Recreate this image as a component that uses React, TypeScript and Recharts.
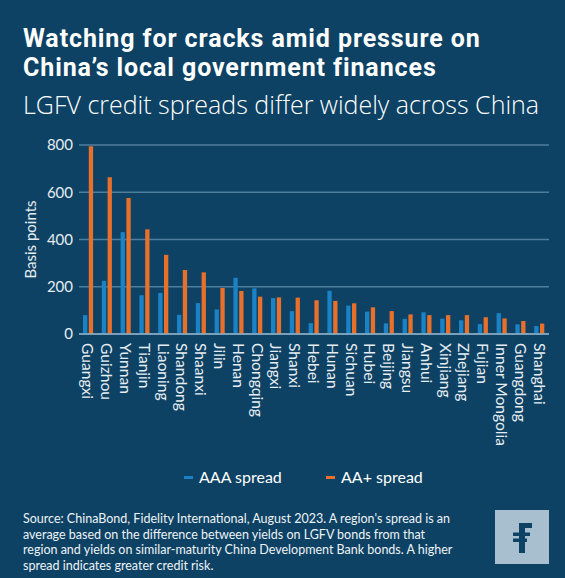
import React from 'react';
import { BarChart, Bar, XAxis, YAxis, CartesianGrid } from 'recharts';

const regions = [
  'Guangxi', 'Guizhou', 'Yunnan', 'Tianjin', 'Liaoning', 'Shandong', 'Shaanxi', 'Jilin',
  'Henan', 'Chongqing', 'Jiangxi', 'Shanxi', 'Hebei', 'Hunan', 'Sichuan', 'Hubei',
  'Beijing', 'Jiangsu', 'Anhui', 'Xinjiang', 'Zhejiang', 'Fujian', 'Inner Mongolia',
  'Guangdong', 'Shanghai',
];
const aaaSpread = [80, 225, 431, 164, 174, 81, 131, 104, 238, 193, 152, 97, 46, 183, 120, 95, 45, 64, 92, 65, 58, 42, 88, 41, 34];
const aaPlusSpread = [795, 664, 576, 443, 335, 271, 261, 195, 182, 158, 155, 154, 143, 140, 130, 113, 97, 83, 80, 80, 80, 71, 66, 55, 44];
const yTicks = [0, 200, 400, 600, 800];

const data = regions.map((region, i) => ({ region, aaa: aaaSpread[i], aaPlus: aaPlusSpread[i] }));

const BG = '#0d4264';
const BLUE = '#1b82c5';
const ORANGE = '#e8702a';
const GRID = '#4f7d9c';
const TEXT = '#ffffff';
const FONT = 'Lato, "Noto Sans", sans-serif';
const TITLE_FONT = 'Roboto, "Open Sans", sans-serif';
const SUB_FONT = '"Open Sans", Lato, sans-serif';

const XTick = (props: any) => {
  const { x, y, payload } = props;
  return (
    <text
      x={x}
      y={y}
      transform={`rotate(90 ${x} ${y})`}
      textAnchor="start"
      dominantBaseline="central"
      fill="#e6edf2"
      fontSize={15.6}
      fontFamily={FONT}
    >
      {payload.value}
    </text>
  );
};

const YLabel = (props: any) => {
  const { viewBox } = props;
  const cx = viewBox.x + 30;
  const cy = viewBox.y + viewBox.height / 2;
  return (
    <text
      x={cx}
      y={cy}
      transform={`rotate(-90 ${cx} ${cy})`}
      textAnchor="middle"
      dominantBaseline="central"
      fill="#e6edf2"
      fontSize={15}
      fontFamily={FONT}
    >
      Basis points
    </text>
  );
};

const titleLine: React.CSSProperties = {
  position: 'absolute',
  left: 23,
  color: TEXT,
  fontFamily: TITLE_FONT,
  fontWeight: 700,
  fontSize: 25,
  lineHeight: '28px',
  letterSpacing: 0.9,
  whiteSpace: 'nowrap',
};

export default function App() {
  return (
    <div style={{ position: 'fixed', left: 0, top: 0, width: 565, height: 578, background: BG, overflow: 'hidden', fontFamily: FONT }}>
      <div style={{ position: 'absolute', left: 0, top: 0 }}>
        <BarChart
          width={565}
          height={470}
          data={data}
          margin={{ top: 145, right: 16, bottom: 0, left: 0 }}
          barSize={4.3}
          barGap={1.5}
        >
          <CartesianGrid vertical={false} stroke={GRID} strokeWidth={1.3} />
          <XAxis
            dataKey="region"
            interval={0}
            tickLine={false}
            axisLine={{ stroke: '#8fb0c6', strokeWidth: 1.5 }}
            height={136}
            tick={<XTick />}
            tickMargin={3}
          />
          <YAxis
            domain={[0, 800]}
            ticks={yTicks}
            width={79}
            axisLine={false}
            tickLine={false}
            tickMargin={0}
            tick={{ fill: '#e6edf2', fontSize: 15, fontFamily: FONT }}
            label={<YLabel />}
          />
          <Bar dataKey="aaa" name="AAA spread" fill={BLUE} isAnimationActive={false} />
          <Bar dataKey="aaPlus" name="AA+ spread" fill={ORANGE} isAnimationActive={false} />
        </BarChart>
      </div>

      <div style={{ ...titleLine, top: 24.8 }}>Watching for cracks amid pressure on</div>
      <div style={{ ...titleLine, top: 54.2 }}>China’s local government finances</div>
      <div style={{ position: 'absolute', left: 23, top: 89, color: TEXT, fontFamily: SUB_FONT, fontWeight: 300, fontSize: 25, lineHeight: '30px', whiteSpace: 'nowrap' }}>
        LGFV credit spreads differ widely across China
      </div>

      <div style={{ position: 'absolute', left: 0, top: 466, width: 565, height: 24, color: TEXT, fontSize: 16 }}>
        <div style={{ position: 'absolute', left: 184, top: 10, width: 9, height: 3, background: BLUE }} />
        <div style={{ position: 'absolute', left: 199, top: 0, lineHeight: '22px' }}>AAA spread</div>
        <div style={{ position: 'absolute', left: 326, top: 10, width: 9, height: 3, background: ORANGE }} />
        <div style={{ position: 'absolute', left: 341, top: 0, lineHeight: '22px' }}>AA+ spread</div>
      </div>

      <div style={{ position: 'absolute', left: 23, top: 511, color: '#eef3f6', fontSize: 12.5, lineHeight: '15.6px', whiteSpace: 'nowrap' }}>
        <div>Source: ChinaBond, Fidelity International, August 2023. A region's spread is an</div>
        <div>average based on the difference between yields on LGFV bonds from that</div>
        <div>region and yields on similar-maturity China Development Bank bonds. A higher</div>
        <div>spread indicates greater credit risk.</div>
      </div>

      <svg style={{ position: 'absolute', left: 495, top: 510 }} width={54} height={54}>
        <rect x={0} y={0} width={54} height={54} fill="#a8bfcf" />
        <rect x={24} y={13} width={6} height={30} fill={BG} />
        <rect x={24} y={13} width={13} height={5} fill={BG} />
        <rect x={18} y={22.5} width={17} height={3.5} fill={BG} />
        <rect x={18} y={28.5} width={14} height={3.5} fill={BG} />
      </svg>
    </div>
  );
}
